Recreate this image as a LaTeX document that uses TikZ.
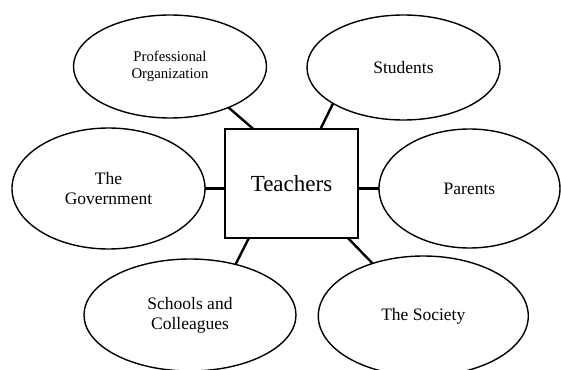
\documentclass[tikz,border=0pt]{standalone}
\usepackage{fontspec}
\setmainfont{Liberation Serif}
\usetikzlibrary{shapes.geometric,positioning}
\tikzset{
    hub/.style ={
        shape=rectangle,
        draw=black,
        line width=2.4pt,
        outer sep=0pt,
        minimum width=133pt,
        minimum height=109pt,
        font=\fontsize{23}{27}\selectfont
    },
    bubble/.style ={
        shape=ellipse,
        draw=black,
        line width=1.4pt,
        outer sep=0pt,
        inner sep=0pt,
        align=center,
        font=\fontsize{17.5}{20}\selectfont
    },
    link/.style ={
        draw=black,
        line width=2.4pt
    }
}

\begin{document}
\begin{tikzpicture}[x=1pt,y=1pt]
    \useasboundingbox (-291.5,-185.5) rectangle (269.5,183.5);
    \node[hub] (teachers) {Teachers};
    \node[bubble,minimum width=193pt,minimum height=103pt,above=11pt of teachers,xshift=-121.5pt,
        font=\fontsize{14.8}{17.3}\selectfont] (prof) {Professional\\Organization};
    \node[bubble,minimum width=193pt,minimum height=105pt,above=9pt of teachers,xshift=112pt] (students) {Students};
    \node[bubble,minimum width=193pt,minimum height=121pt,left=20pt of teachers,yshift=-5pt] (gov) {The\\Government};
    \node[bubble,minimum width=181pt,minimum height=119pt,right=21pt of teachers,yshift=-5pt] (parents) {Parents};
    \node[bubble,minimum width=212pt,minimum height=112pt,below=21pt of teachers,xshift=-101.5pt] (schools) {Schools and\\Colleagues};
    \node[bubble,minimum width=210pt,minimum height=120pt,below=18pt of teachers,xshift=131.8pt] (society) {The Society};
    % spokes from the box out to each ellipse
    \draw[link] (prof.-35) -- (teachers.125);
    \draw[link] (students.-153) -- (teachers.62);
    \draw[link] (gov.east) -- (gov.east -| teachers.west);
    \draw[link] (parents.west) -- (parents.west -| teachers.east);
    \draw[link] (schools.48) -- (teachers.-128);
    \draw[link] (society.134) -- (teachers.-44);
\end{tikzpicture}
\end{document}
